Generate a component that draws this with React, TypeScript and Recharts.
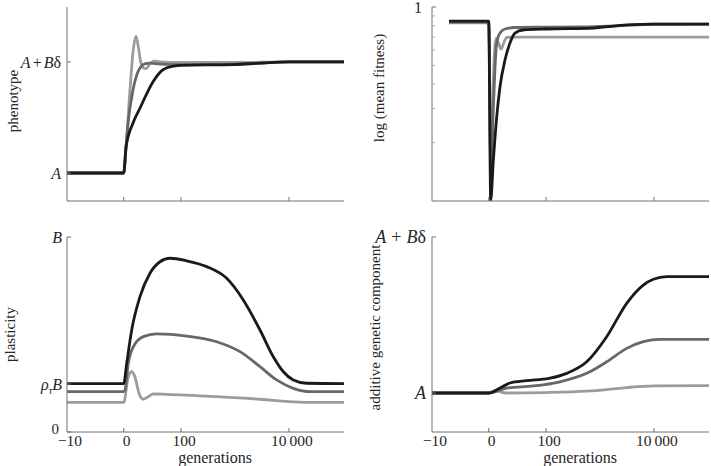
import React from 'react';
import { LineChart, Line, XAxis, YAxis } from 'recharts';

// ---------- data: [generation, value] ----------
const xTickGens = [-10, 0, 100, 10000];
const xTickLabels = ['\u221210', '0', '100', '10\u2009000'];

// phenotype (A = 0, A+Bδ = 1)
const phenoLight = [[-10, 0], [0, 0], [1, 0.23], [3, 0.75], [5, 1.12], [6.7, 1.23], [8.5, 1.13], [10.5, 0.99], [12.4, 0.95], [15.4, 0.94], [20, 0.985], [25.5, 1.01], [35, 1.0], [100, 0.995], [1000, 0.995], [10000, 1.0], [100000, 1.0]];
const phenoDark = [[-10, 0], [0, 0], [1, 0.23], [2, 0.45], [4.75, 0.75], [7.4, 0.89], [10, 0.95], [14.5, 0.985], [20, 0.99], [27, 0.985], [50, 0.978], [100, 0.976], [1000, 0.98], [3000, 0.99], [10000, 1.0], [100000, 1.0]];
const phenoBlack = [[-10, 0], [0, 0], [1, 0.23], [4.75, 0.45], [10, 0.59], [16.5, 0.72], [25, 0.83], [41.7, 0.93], [70, 0.962], [100, 0.97], [1000, 0.976], [3000, 0.99], [10000, 1.0], [100000, 1.0]];

// log(mean fitness)
const fitLight = [[-7, 0.828], [0, 0.828], [1, 0.13], [2, 0.38], [3.55, 0.69], [5, 0.655], [6.8, 0.607], [9, 0.66], [11.2, 0.698], [20, 0.699], [100000, 0.699]];
const fitDark = [[-7, 0.836], [0, 0.836], [1, 0.115], [2, 0.28], [3, 0.49], [3.96, 0.65], [6, 0.734], [9.75, 0.77], [20, 0.784], [100, 0.787], [500, 0.79], [2000, 0.8], [10000, 0.815], [100000, 0.817]];
const fitBlack = [[-7, 0.845], [0, 0.845], [0.86, 0.101], [2.15, 0.163], [3.96, 0.271], [6, 0.387], [9.75, 0.533], [14.3, 0.652], [20, 0.734], [31.9, 0.761], [104, 0.77], [773, 0.779], [3233, 0.808], [10000, 0.817], [100000, 0.817]];

// plasticity (B = 1)
const plastLight = [[-10, 0.152], [0, 0.152], [2.1, 0.284], [3.96, 0.309], [5.9, 0.284], [9, 0.198], [12.65, 0.168], [17.85, 0.181], [24.3, 0.195], [50, 0.193], [477, 0.181], [2973, 0.168], [11985, 0.155], [30000, 0.152], [100000, 0.152]];
const plastDark = [[-10, 0.207], [0, 0.207], [0.55, 0.215], [2.1, 0.352], [4.93, 0.437], [12.65, 0.489], [29.6, 0.503], [129, 0.492], [477, 0.463], [1283, 0.412], [2973, 0.335], [5974, 0.267], [11985, 0.224], [24130, 0.207], [100000, 0.207]];
const plastBlack = [[-10, 0.248], [0, 0.248], [1.32, 0.352], [3.96, 0.523], [9.75, 0.694], [20, 0.814], [35.6, 0.873], [59.2, 0.891], [129, 0.878], [311, 0.848], [731, 0.788], [1473, 0.677], [2973, 0.523], [5190, 0.386], [7906, 0.309], [11985, 0.267], [21030, 0.25], [100000, 0.248]];

// additive genetic component (A = 0, A+Bδ = 1)
const genLight = [[-10, 0], [0, 0], [3, 0.015], [11, 0.0], [100, 0.003], [591, 0.012], [1378, 0.022], [3193, 0.035], [10000, 0.046], [100000, 0.047]];
const genDark = [[-10, 0], [0, 0], [11.2, 0.032], [54.5, 0.045], [187, 0.072], [591, 0.126], [1378, 0.2], [3193, 0.286], [6402, 0.329], [12872, 0.344], [100000, 0.344]];
const genBlack = [[-10, 0], [0, 0], [6.03, 0.032], [14.3, 0.064], [38.9, 0.079], [113.8, 0.094], [250.6, 0.126], [591, 0.2], [1378, 0.361], [3193, 0.575], [6402, 0.692], [9741, 0.729], [17061, 0.746], [100000, 0.746]];

const phenoTicks = [0, 1];
const fitTicks = [0.2, 0.3, 0.4, 0.5, 0.6, 0.7, 0.8, 0.9, 1];
const plastTicks = [0, 0.246, 1];
const genTicks = [0, 1];

// ---------- styling ----------
const FONT = "'Liberation Serif', 'DejaVu Serif', serif";
const TEXT = '#262626';
const AXIS = '#707070';
const C_LIGHT = '#9c9c9c';
const C_DARK = '#686868';
const C_BLACK = '#1a1a1a';
const LW = 2.8;
const txtStyle: React.CSSProperties = { fontFamily: FONT };

const toU = (g: number) => (g < 0 ? 0.103 * g : Math.log10(10 + g) - 1);
const toPts = (arr: number[][]) => arr.map(([g, v]) => ({ u: toU(g), v }));
const X_DOMAIN = [toU(-10), toU(100000)];
const X_TICKS = xTickGens.map(toU);

const it = (s: string) => <tspan fontStyle="italic">{s}</tspan>;
const ApB = (wide: boolean) => (
  <>
    {it('A')}
    <tspan dx={wide ? 5 : 2}>+</tspan>
    <tspan dx={wide ? 5 : 2} fontStyle="italic">B</tspan>
    <tspan>δ</tspan>
  </>
);
const rhoB = (
  <>
    {it('ρ')}
    <tspan fontSize={10} dy={4} fontStyle="italic">τ</tspan>
    <tspan dy={-4} fontStyle="italic">B</tspan>
  </>
);

const phenoLabels: React.ReactNode[] = [it('A'), ApB(false)];
const fitLabels: React.ReactNode[] = [null, null, null, null, null, null, null, null, '1'];
const plastLabels: React.ReactNode[] = ['0', rhoB, it('B')];
const genLabels: React.ReactNode[] = [it('A'), ApB(true)];

const makeXTick = (showLabels: boolean) => (props: any) => {
  const { x, y, payload } = props;
  const idx = X_TICKS.findIndex((t) => Math.abs(t - payload.value) < 1e-6);
  return (
    <g>
      {idx > 0 && <line x1={x} x2={x} y1={y} y2={y - 4} stroke={AXIS} strokeWidth={1} />}
      {showLabels && idx >= 0 && (
        <text x={x + 3} y={y + 13.5} textAnchor="middle" style={txtStyle} fontFamily={FONT} fontSize={15.5} fill={TEXT}>
          {xTickLabels[idx]}
        </text>
      )}
    </g>
  );
};

const makeYTick = (ticks: number[], labels: React.ReactNode[], gap: number, fontSize: number, minor: boolean) => (props: any) => {
  const { x, y, payload } = props;
  const idx = ticks.findIndex((t) => Math.abs(t - payload.value) < 1e-6);
  const lab = idx >= 0 ? labels[idx] : null;
  const isMinor = minor && lab == null;
  const isZero = lab === '0';
  return (
    <g>
      <line x1={x} x2={x + (isMinor ? 3 : 4)} y1={y} y2={y} stroke={isMinor ? '#a8a8a8' : AXIS} strokeWidth={1} />
      {lab != null && (
        <text
          x={x - gap - (isZero ? 3 : 0)}
          y={y - (isZero ? 3 : 0)}
          dy="0.35em"
          textAnchor="end"
          style={txtStyle}
          fontFamily={FONT}
          fontSize={isZero ? 15 : fontSize}
          fill={TEXT}
        >
          {lab}
        </text>
      )}
    </g>
  );
};

const yTitle = (text: string, cx: number, dy: number) => (props: any) => {
  const vb = props.viewBox || {};
  const cy = (vb.y ?? 7) + (vb.height ?? 194) / 2 + dy;
  return (
    <text
      transform={`translate(${cx},${cy}) rotate(-90)`}
      textAnchor="middle"
      dominantBaseline="central"
      style={txtStyle}
      fontFamily={FONT}
      fontSize={15}
      fill={TEXT}
    >
      {text}
    </text>
  );
};

const xTitle = (text: string, dx: number) => (props: any) => {
  const vb = props.viewBox || {};
  const cx = (vb.x ?? 0) + (vb.width ?? 0) / 2 + dx;
  const y = (vb.y ?? 0) + 30.5;
  return (
    <text x={cx} y={y} textAnchor="middle" style={txtStyle} fontFamily={FONT} fontSize={16} fill={TEXT}>
      {text}
    </text>
  );
};

type PanelProps = {
  left: number;
  top: number;
  width: number;
  height: number;
  marginTop: number;
  yWidth: number;
  right: number;
  xHeight: number;
  series: number[][][];
  yDomain: number[];
  yLog?: boolean;
  yTicks: number[];
  yLabels: React.ReactNode[];
  yGap: number;
  yFont: number;
  showX: boolean;
  title: string;
  titleX: number;
  titleDy: number;
};

const COLORS = [C_LIGHT, C_DARK, C_BLACK];

function Panel(p: PanelProps) {
  return (
    <div style={{ position: 'absolute', left: p.left, top: p.top, width: p.width, height: p.height, fontFamily: FONT }}>
      <LineChart width={p.width} height={p.height} margin={{ top: p.marginTop, right: p.right, bottom: 0, left: 0 }} style={{ fontFamily: FONT }}>
        <XAxis
          type="number"
          dataKey="u"
          domain={X_DOMAIN}
          allowDataOverflow
          ticks={X_TICKS}
          interval={0}
          height={p.xHeight}
          tickSize={0}
          tickMargin={0}
          tickLine={false}
          axisLine={{ stroke: AXIS, strokeWidth: 1 }}
          tick={makeXTick(p.showX)}
          label={p.showX ? xTitle('generations', 9.5) : undefined}
        />
        <YAxis
          type="number"
          dataKey="v"
          scale={p.yLog ? 'log' : 'auto'}
          domain={p.yDomain}
          allowDataOverflow
          ticks={p.yTicks}
          interval={0}
          width={p.yWidth}
          tickSize={0}
          tickMargin={0}
          tickLine={false}
          axisLine={{ stroke: AXIS, strokeWidth: 1 }}
          tick={makeYTick(p.yTicks, p.yLabels, p.yGap, p.yFont, !!p.yLog)}
          label={yTitle(p.title, p.titleX, p.titleDy)}
        />
        {p.series.map((s, i) => (
          <Line
            key={i}
            data={toPts(s)}
            dataKey="v"
            type="monotone"
            stroke={COLORS[i]}
            strokeWidth={LW}
            dot={false}
            activeDot={false}
            isAnimationActive={false}
          />
        ))}
      </LineChart>
    </div>
  );
}

export default function App() {
  return (
    <div style={{ position: 'absolute', left: 0, top: 0, width: 711, height: 466, background: '#fff', fontFamily: FONT }}>
      <Panel
        left={0} top={0} width={360} height={215} marginTop={7} yWidth={67} right={16} xHeight={14}
        series={[phenoLight, phenoDark, phenoBlack]}
        yDomain={[-0.252, 1.495]} yTicks={phenoTicks} yLabels={phenoLabels} yGap={6} yFont={16}
        showX={false} title="phenotype" titleX={13} titleDy={-3}
      />
      <Panel
        left={360} top={0} width={351} height={215} marginTop={7} yWidth={72} right={2} xHeight={14}
        series={[fitLight, fitDark, fitBlack]}
        yDomain={[0.1, 1]} yLog yTicks={fitTicks} yLabels={fitLabels} yGap={10} yFont={16}
        showX={false} title="log (mean fitness)" titleX={19} titleDy={-16}
      />
      <Panel
        left={0} top={215} width={360} height={251} marginTop={22} yWidth={67} right={16} xHeight={34}
        series={[plastLight, plastDark, plastBlack]}
        yDomain={[0, 1]} yTicks={plastTicks} yLabels={plastLabels} yGap={5} yFont={16}
        showX={true} title="plasticity" titleX={10} titleDy={0}
      />
      <Panel
        left={360} top={215} width={351} height={251} marginTop={22} yWidth={72} right={2} xHeight={34}
        series={[genLight, genDark, genBlack]}
        yDomain={[-0.25, 1]} yTicks={genTicks} yLabels={genLabels} yGap={6} yFont={18}
        showX={true} title="additive genetic component" titleX={15} titleDy={-7}
      />
    </div>
  );
}
